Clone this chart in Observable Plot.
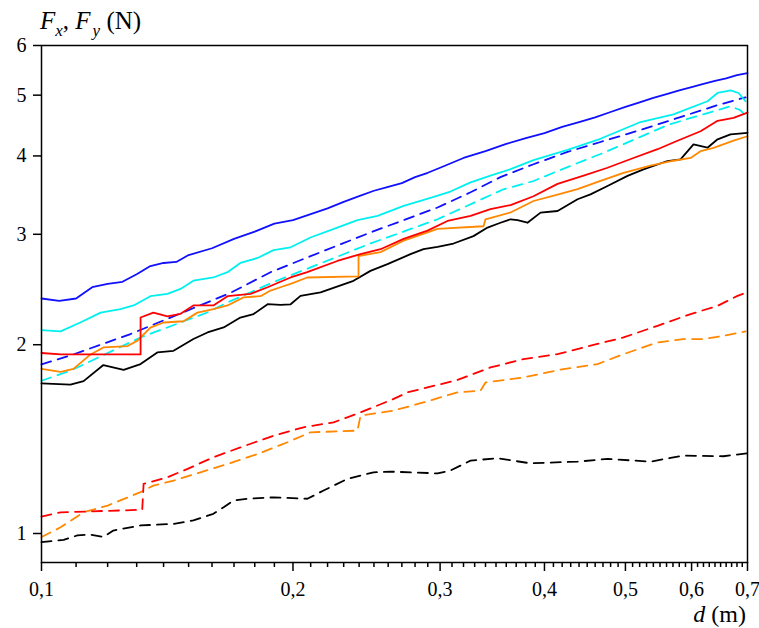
<!DOCTYPE html>
<html><head><meta charset="utf-8">
<script src="https://cdn.jsdelivr.net/npm/d3@7"></script>
<script src="https://cdn.jsdelivr.net/npm/@observablehq/plot@0.6"></script>
<style>
body{margin:0;background:#fff}
svg{display:block}
#chart svg, #chart svg text, #chart svg tspan { font-family: "Liberation Serif", "Times New Roman", serif !important; }
</style>
</head><body><div id="chart"></div>
<script>
// d (m), F (N) — solid lines
const blueSolid = [[0.1,2.37],[0.105,2.35],[0.11,2.37],[0.115,2.47],[0.12,2.50],[0.125,2.52],[0.13,2.59],[0.135,2.67],[0.14,2.70],[0.145,2.71],[0.15,2.78],[0.16,2.85],[0.17,2.95],[0.18,3.03],[0.19,3.12],[0.2,3.16],[0.21,3.23],[0.22,3.30],[0.23,3.38],[0.24,3.45],[0.25,3.52],[0.26,3.57],[0.27,3.62],[0.28,3.70],[0.29,3.76],[0.3,3.83],[0.32,3.97],[0.34,4.07],[0.36,4.18],[0.38,4.27],[0.4,4.35],[0.42,4.45],[0.44,4.53],[0.46,4.61],[0.48,4.70],[0.5,4.79],[0.52,4.87],[0.54,4.95],[0.56,5.02],[0.58,5.09],[0.6,5.15],[0.62,5.21],[0.64,5.27],[0.66,5.32],[0.68,5.38],[0.7,5.42]];
const cyanSolid = [[0.1,2.11],[0.1054,2.10],[0.1113,2.17],[0.1177,2.25],[0.1243,2.28],[0.1289,2.31],[0.135,2.39],[0.1415,2.41],[0.1467,2.455],[0.152,2.53],[0.1606,2.56],[0.167,2.61],[0.173,2.70],[0.1814,2.75],[0.1896,2.83],[0.1987,2.86],[0.2099,2.965],[0.226,3.075],[0.2389,3.16],[0.2525,3.21],[0.2713,3.33],[0.2922,3.43],[0.3087,3.51],[0.3263,3.63],[0.3447,3.72],[0.3643,3.81],[0.3881,3.94],[0.4263,4.09],[0.4668,4.26],[0.5212,4.53],[0.5708,4.66],[0.6269,4.89],[0.6446,5.04],[0.668,5.09],[0.683,5.04],[0.6961,4.89]];
const redSolid = [[0.1,1.94],[0.1054,1.93],[0.1314,1.93],[0.1314,2.21],[0.1361,2.25],[0.1415,2.22],[0.1467,2.24],[0.152,2.31],[0.1606,2.31],[0.167,2.39],[0.1779,2.41],[0.1865,2.47],[0.1932,2.52],[0.1987,2.56],[0.208,2.61],[0.226,2.72],[0.2409,2.79],[0.2546,2.84],[0.2713,2.95],[0.2898,3.04],[0.3062,3.15],[0.3263,3.21],[0.3447,3.29],[0.3643,3.34],[0.3881,3.45],[0.4147,3.61],[0.4456,3.72],[0.4759,3.83],[0.5112,3.97],[0.5463,4.10],[0.5771,4.23],[0.615,4.38],[0.6446,4.55],[0.6735,4.60],[0.7,4.69]];
const orangeSolid = [[0.1,1.83],[0.1054,1.81],[0.1092,1.83],[0.1145,1.93],[0.1186,1.98],[0.1268,1.99],[0.1303,2.03],[0.135,2.13],[0.14,2.17],[0.1479,2.18],[0.1537,2.25],[0.1606,2.28],[0.167,2.31],[0.1745,2.38],[0.1829,2.39],[0.188,2.44],[0.1932,2.47],[0.1987,2.50],[0.208,2.56],[0.2396,2.57],[0.2396,2.77],[0.2546,2.81],[0.2713,2.93],[0.2898,3.02],[0.2979,3.06],[0.3381,3.09],[0.34,3.17],[0.3643,3.25],[0.3881,3.39],[0.4147,3.47],[0.4382,3.54],[0.4668,3.65],[0.4974,3.76],[0.5358,3.86],[0.5708,3.93],[0.5984,3.97],[0.615,4.07],[0.6375,4.12],[0.6735,4.23],[0.7,4.30]];
const blackSolid = [[0.1,1.735],[0.1083,1.727],[0.1123,1.75],[0.1186,1.856],[0.1254,1.823],[0.1314,1.863],[0.1376,1.944],[0.1439,1.956],[0.152,2.042],[0.158,2.092],[0.1652,2.131],[0.173,2.21],[0.1794,2.238],[0.1865,2.321],[0.1932,2.315],[0.1987,2.32],[0.2042,2.393],[0.2158,2.423],[0.2363,2.529],[0.2476,2.623],[0.2595,2.689],[0.2765,2.789],[0.2866,2.84],[0.2979,2.864],[0.3113,2.90],[0.3289,2.98],[0.3419,3.075],[0.3543,3.13],[0.3643,3.17],[0.3714,3.16],[0.3817,3.13],[0.3957,3.248],[0.4147,3.268],[0.4382,3.412],[0.4541,3.474],[0.4759,3.582],[0.5029,3.717],[0.5256,3.808],[0.5614,3.926],[0.582,3.951],[0.6032,4.173],[0.6269,4.122],[0.6446,4.252],[0.668,4.33],[0.7,4.355]];
// dashed lines
const blueDashed = [[0.1,1.86],[0.1092,1.93],[0.1278,2.08],[0.1684,2.42],[0.188,2.61],[0.2059,2.74],[0.2476,3.02],[0.2979,3.31],[0.3263,3.50],[0.3543,3.70],[0.3881,3.88],[0.4263,4.06],[0.4668,4.21],[0.5212,4.40],[0.5868,4.63],[0.6446,4.82],[0.6961,4.96]];
const cyanDashed = [[0.1,1.752],[0.1083,1.818],[0.1314,2.054],[0.1579,2.251],[0.1669,2.335],[0.19,2.52],[0.2476,2.90],[0.2979,3.17],[0.3573,3.539],[0.3881,3.648],[0.4263,3.84],[0.4668,4.028],[0.5212,4.29],[0.5614,4.48],[0.615,4.647],[0.668,4.80],[0.6866,4.73],[0.7,4.60]];
const redDashed = [[0.1,1.064],[0.1054,1.081],[0.132,1.091],[0.1325,1.2],[0.1415,1.229],[0.1496,1.268],[0.1606,1.323],[0.173,1.372],[0.1896,1.432],[0.2059,1.477],[0.2237,1.504],[0.2409,1.56],[0.2628,1.635],[0.2743,1.679],[0.3147,1.757],[0.3447,1.84],[0.3776,1.897],[0.4147,1.932],[0.4541,1.993],[0.4974,2.054],[0.5463,2.144],[0.5984,2.238],[0.6446,2.307],[0.681,2.393],[0.6961,2.42]];
const orangeDashed = [[0.1,0.987],[0.1054,1.023],[0.1123,1.081],[0.12,1.108],[0.1314,1.164],[0.1361,1.192],[0.1439,1.214],[0.155,1.252],[0.167,1.291],[0.1814,1.339],[0.197,1.398],[0.2099,1.45],[0.2389,1.459],[0.2409,1.541],[0.2638,1.57],[0.2866,1.618],[0.3147,1.679],[0.3354,1.689],[0.34,1.741],[0.3776,1.774],[0.4216,1.829],[0.4631,1.863],[0.4974,1.932],[0.5463,2.017],[0.5868,2.042],[0.62,2.042],[0.6553,2.067],[0.6961,2.10]];
const blackDashed = [[0.1,0.969],[0.1063,0.977],[0.1104,0.993],[0.1145,0.996],[0.1186,0.987],[0.1219,1.011],[0.1314,1.03],[0.1439,1.036],[0.152,1.049],[0.1563,1.062],[0.1606,1.075],[0.1652,1.101],[0.1698,1.129],[0.1765,1.136],[0.1896,1.142],[0.2081,1.136],[0.2176,1.171],[0.2324,1.222],[0.2497,1.252],[0.2617,1.255],[0.2979,1.247],[0.3087,1.26],[0.3263,1.307],[0.3514,1.318],[0.3849,1.294],[0.4382,1.302],[0.4759,1.315],[0.5358,1.302],[0.5868,1.331],[0.6553,1.328],[0.7,1.342]];

const xTicks = [0.1,0.2,0.3,0.4,0.5,0.6,0.7];
const xMinorTicks = [0.11,0.12,0.13,0.14,0.15,0.16,0.17,0.18,0.19,0.21,0.22,0.23,0.24,0.25,0.26,0.27,0.28,0.29,0.31,0.32,0.33,0.34,0.35,0.36,0.37,0.38,0.39,0.41,0.42,0.43,0.44,0.45,0.46,0.47,0.48,0.49,0.51,0.52,0.53,0.54,0.55,0.56,0.57,0.58,0.59,0.61,0.62,0.63,0.64,0.65,0.66,0.67,0.68,0.69];
const yTicks = [1,2,3,4,5,6];

const series = [
  {data: blackDashed, color: "#000000", dash: "10,7"},
  {data: orangeDashed, color: "#ff8800", dash: "10,7"},
  {data: redDashed, color: "#ff0000", dash: "10,7"},
  {data: cyanDashed, color: "#00f0f0", dash: "10,7"},
  {data: blueDashed, color: "#1010ff", dash: "10,7"},
  {data: blackSolid, color: "#000000", dash: null},
  {data: orangeSolid, color: "#ff8800", dash: null},
  {data: redSolid, color: "#ff0000", dash: null},
  {data: cyanSolid, color: "#00f0f0", dash: null},
  {data: blueSolid, color: "#1010ff", dash: null}
];

const lineMarks = series.map(s => Plot.line(s.data, {
  x: d => d[0], y: d => d[1], stroke: s.color, strokeWidth: 1.8,
  strokeDasharray: s.dash ?? undefined, curve: "linear"
}));

const FONT = "Liberation Serif, Times New Roman, serif";

const chart = Plot.plot({
  width: 759, height: 628,
  marginLeft: 41, marginRight: 12, marginTop: 45, marginBottom: 66,
  x: {type: "log", domain: [0.1, 0.7]},
  y: {type: "log", domain: [0.899, 6]},
  style: {fontFamily: FONT, fontSize: "20px", color: "black", background: "white"},
  marks: [
    ...lineMarks,
    Plot.axisX({ticks: xMinorTicks, tickSize: 5, tickFormat: () => "", strokeWidth: 1.5, label: null}),
    Plot.axisX({ticks: xTicks, tickSize: 9, tickPadding: 10, tickFormat: d => String(d).replace(".", ","), strokeWidth: 1.5, fontSize: 20, label: null}),
    Plot.axisY({ticks: yTicks, tickSize: 8, tickPadding: 7, tickFormat: d => String(d), strokeWidth: 1.5, fontSize: 20, label: null}),
    Plot.frame({stroke: "black", strokeWidth: 1.5})
  ]
});

const svg = d3.select(chart);
const t = svg.append("text").attr("x", 40).attr("y", 29).attr("text-anchor", "start").attr("font-family", FONT).attr("font-size", 25).attr("fill", "black");
t.append("tspan").attr("font-style", "italic").text("F");
t.append("tspan").attr("font-style", "italic").attr("font-size", 17).attr("dy", 7).text("x");
t.append("tspan").attr("dy", -7).text(", ");
t.append("tspan").attr("font-style", "italic").text("F");
t.append("tspan").attr("font-style", "italic").attr("font-size", 17).attr("dy", 7).attr("dx", 2).text("y");
t.append("tspan").attr("dy", -7).text(" (N)");

const xl = svg.append("text").attr("x", 746).attr("y", 622).attr("text-anchor", "end").attr("font-family", FONT).attr("font-size", 24).attr("fill", "black");
xl.append("tspan").attr("font-style", "italic").text("d");
xl.append("tspan").text(" (m)");

document.getElementById("chart").appendChild(chart);
</script>
</body></html>
